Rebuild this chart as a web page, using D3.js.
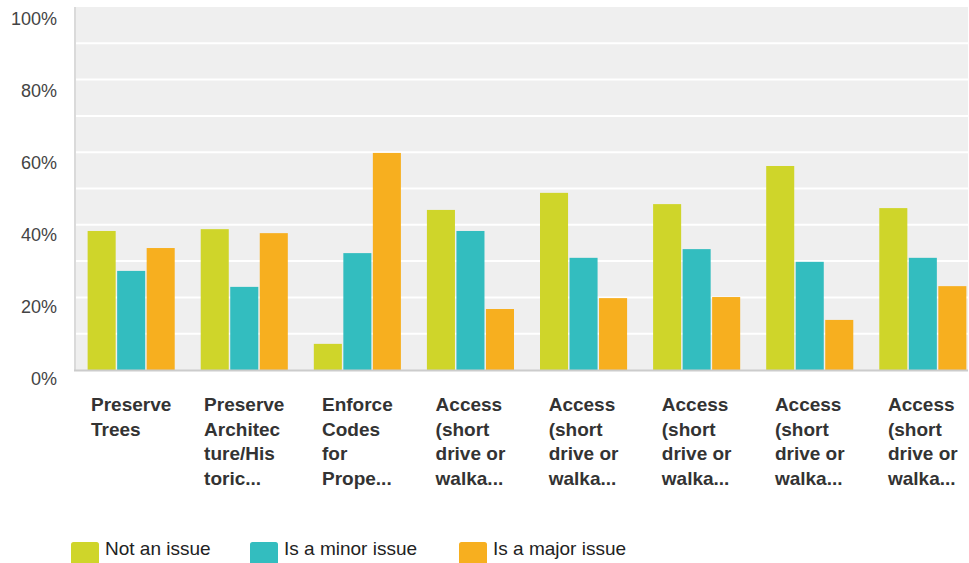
<!DOCTYPE html>
<html>
<head>
<meta charset="utf-8">
<script src="https://cdn.jsdelivr.net/npm/d3@7"></script>
<style>
  html, body { margin: 0; padding: 0; background: #fff; }
  svg { display: block; font-family: "Liberation Sans", Arial, sans-serif; }
</style>
</head>
<body>
<svg id="chart" width="969" height="563"></svg>
<script>
// ---- data ----
const categories = [
  ["Preserve", "Trees"],
  ["Preserve", "Architec", "ture/His", "toric..."],
  ["Enforce", "Codes", "for", "Prope..."],
  ["Access", "(short", "drive or", "walka..."],
  ["Access", "(short", "drive or", "walka..."],
  ["Access", "(short", "drive or", "walka..."],
  ["Access", "(short", "drive or", "walka..."],
  ["Access", "(short", "drive or", "walka..."]
];
const seriesNames = ["Not an issue", "Is a minor issue", "Is a major issue"];
const notAnIssue   = [38.3, 38.8, 7.2, 44.1, 48.8, 45.7, 56.2, 44.6];
const minorIssue   = [27.3, 22.9, 32.2, 38.3, 30.9, 33.3, 29.8, 30.9];
const majorIssue   = [33.6, 37.7, 59.8, 16.8, 19.8, 20.1, 13.8, 23.1];
const yTicks = [0, 20, 40, 60, 80, 100];
const gridTicks = [0, 10, 20, 30, 40, 50, 60, 70, 80, 90, 100];
const colors = ["#CFD52A", "#33BDBF", "#F7AF1F"];

const seriesValues = [notAnIssue, minorIssue, majorIssue];

// ---- layout ----
const svg = d3.select("#chart");
const plot = { left: 75, right: 968, top: 7, bottom: 370 };

const y = d3.scaleLinear().domain([0, 100]).range([plot.bottom, plot.top]);
const yLabel = d3.scaleLinear().domain([0, 100]).range([385, 25]);
const ids = categories.map((d, i) => i);
const x0 = d3.scaleBand().domain(ids).range([77, 977]).paddingInner(0.23).paddingOuter(0.094);
const x1 = d3.scaleBand().domain(d3.range(seriesNames.length)).range([0, x0.bandwidth()]).paddingInner(0.05);

// background
svg.append("rect")
  .attr("x", plot.left).attr("y", plot.top)
  .attr("width", plot.right - plot.left).attr("height", plot.bottom - plot.top)
  .attr("fill", "#EFEFEF");

// gridlines
svg.append("g").selectAll("line").data(gridTicks.filter(t => t > 0 && t < 100)).join("line")
  .attr("x1", plot.left).attr("x2", plot.right)
  .attr("y1", d => y(d)).attr("y2", d => y(d))
  .attr("stroke", "#ffffff").attr("stroke-width", 2);

// left axis line
svg.append("line")
  .attr("x1", plot.left).attr("x2", plot.left)
  .attr("y1", plot.top).attr("y2", plot.bottom)
  .attr("stroke", "#dadada").attr("stroke-width", 2);

// y labels
svg.append("g").selectAll("text").data(yTicks).join("text")
  .attr("x", 57).attr("y", d => yLabel(d))
  .attr("text-anchor", "end")
  .attr("font-size", 18).attr("fill", "#444")
  .text(d => d + "%");

// bars
const groups = svg.append("g").selectAll("g").data(ids).join("g")
  .attr("transform", d => `translate(${x0(d)},0)`);
groups.selectAll("rect")
  .data(i => seriesValues.map((vals, s) => ({ s, v: vals[i] })))
  .join("rect")
  .attr("x", d => x1(d.s))
  .attr("width", x1.bandwidth())
  .attr("y", d => y(d.v))
  .attr("height", d => y(0) - y(d.v))
  .attr("fill", d => colors[d.s]);

// bottom axis line
svg.append("line")
  .attr("x1", plot.left - 1).attr("x2", plot.right)
  .attr("y1", plot.bottom + 0.5).attr("y2", plot.bottom + 0.5)
  .attr("stroke", "#cccccc").attr("stroke-width", 2);

// x labels
ids.forEach(i => {
  const g = svg.append("g");
  const texts = g.selectAll("text").data(categories[i]).join("text")
    .attr("y", (d, k) => 411 + k * 24.7)
    .attr("font-size", 19).attr("font-weight", "bold").attr("fill", "#333")
    .text(d => d);
  let maxW = 0;
  texts.each(function () { maxW = Math.max(maxW, this.getComputedTextLength()); });
  const cx = x0(i) + x0.bandwidth() / 2;
  texts.attr("x", cx - maxW / 2);
});

// legend
const legendX = [71, 250, 459];
const leg = svg.append("g").selectAll("g").data(seriesNames).join("g")
  .attr("transform", (d, i) => `translate(${legendX[i]},542)`);
leg.append("rect")
  .attr("width", 28).attr("height", 24).attr("rx", 2.5)
  .attr("fill", (d, i) => colors[i]);
leg.append("text")
  .attr("x", 34).attr("y", 13)
  .attr("font-size", 19).attr("fill", "#222")
  .text(d => d);
</script>
</body>
</html>
